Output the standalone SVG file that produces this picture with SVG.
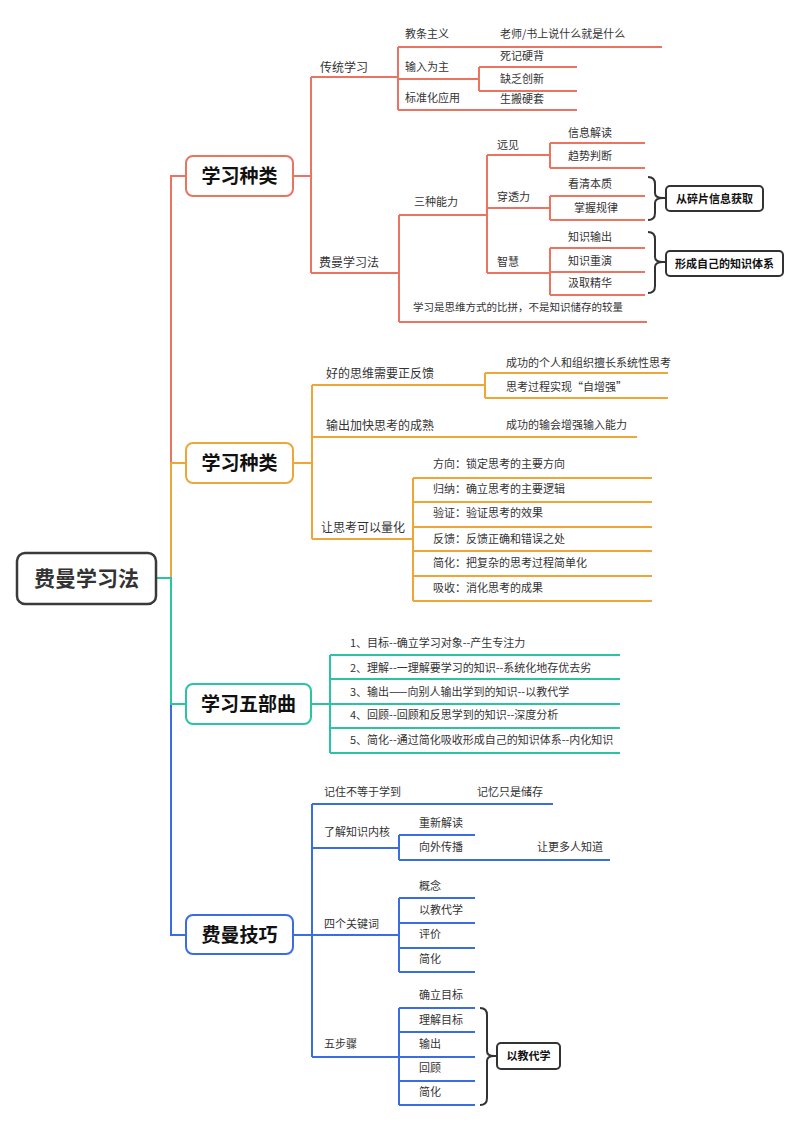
<svg xmlns="http://www.w3.org/2000/svg" width="800" height="1131" viewBox="0 0 800 1131">
<style>
.ln{fill:none;stroke-width:2;stroke-linecap:butt}
.r{stroke:#EB735F}.o{stroke:#F0A637}.g{stroke:#2BC4A2}.u{stroke:#3A6CE4}
.t{font-family:"Noto Sans CJK SC","Noto Sans",sans-serif;font-size:11px;fill:#333}
.t2{font-size:12px}
.b{font-family:"Noto Sans CJK SC","Noto Sans",sans-serif;font-size:19px;font-weight:bold;fill:#111;text-anchor:middle}
.bx{fill:#fff;stroke-width:2}
.br{fill:none;stroke:#333;stroke-width:2}
.sb{fill:#fff;stroke:#333;stroke-width:2}
.st{font-family:"Noto Sans CJK SC","Noto Sans",sans-serif;font-size:11px;font-weight:bold;fill:#111;text-anchor:middle}
</style>
<rect width="800" height="1131" fill="#fff"/>
<g id="connectors">
<path class="ln r" d="M156,578 H171 V176 H186"/>
<path class="ln r" d="M293,176 H311 M311,77 V273 M398,47 V110 M479,67 V91 M399,215 V322 M487,155 V273 M550,143 V168 M550,196 V220 M550,248 V295"/>
<path class="ln o" d="M156,578 H171 V463 H186"/>
<path class="ln o" d="M293,463 H312 M312,385 V539 M485,373 V398 M413,478 V601"/>
<path class="ln u" d="M156,578 H171 V935 H186"/>
<path class="ln u" d="M293,935 H312 M312,804 V1057 M399,835 V860 M399,898 V972 M399,1008 V1105"/>
<path class="ln g" d="M156,578 H171 V704 H186"/>
<path class="ln g" d="M311,704 H330 M330,655 V753"/>
</g>
<g id="root">
<rect x="17" y="553" width="139" height="51" rx="8" fill="#fff" stroke="#3a3a3a" stroke-width="2.5"/>
<text x="86.5" y="585.5" class="b" style="font-size:21px;fill:#333">费曼学习法</text>
</g>
<g id="branch1">
<rect class="bx r" x="186" y="156" width="107" height="40" rx="7"/>
<text class="b" x="239.5" y="183">学习种类</text>
</g>
<g id="b1-traditional"><line class="ln r" x1="311" y1="77" x2="398" y2="77"/><text class="t t2" x="320" y="71.5">传统学习</text></g>
<g id="b1-feynman"><line class="ln r" x1="311" y1="273" x2="399" y2="273"/><text class="t t2" x="319" y="266.5">费曼学习法</text></g>
<g id="b1-dogma"><line class="ln r" x1="398" y1="47" x2="497" y2="47"/><text class="t" x="405" y="38">教条主义</text></g>
<g id="b1-dogma-c"><line class="ln r" x1="497" y1="47" x2="662" y2="47"/><text class="t" x="500" y="38">老师/书上说什么就是什么</text></g>
<g id="b1-input"><line class="ln r" x1="398" y1="79" x2="479" y2="79"/><text class="t" x="405" y="71">输入为主</text></g>
<g id="b1-rote"><line class="ln r" x1="479" y1="67" x2="577" y2="67"/><text class="t" x="500" y="60">死记硬背</text></g>
<g id="b1-lack"><line class="ln r" x1="479" y1="91" x2="577" y2="91"/><text class="t" x="500" y="83">缺乏创新</text></g>
<g id="b1-std"><line class="ln r" x1="398" y1="110" x2="497" y2="110"/><text class="t" x="405" y="102">标准化应用</text></g>
<g id="b1-std-c"><line class="ln r" x1="497" y1="110" x2="577" y2="110"/><text class="t" x="500" y="103">生搬硬套</text></g>
<g id="b1-three"><line class="ln r" x1="399" y1="215" x2="487" y2="215"/><text class="t" x="414" y="206">三种能力</text></g>
<g id="b1-compare"><line class="ln r" x1="399" y1="322" x2="647" y2="322"/><text class="t" x="413" y="311" style="font-size:10.5px">学习是思维方式的比拼，不是知识储存的较量</text></g>
<g id="b1-vision"><line class="ln r" x1="487" y1="155" x2="550" y2="155"/><text class="t" x="497" y="149">远见</text></g>
<g id="b1-info"><line class="ln r" x1="550" y1="143" x2="645" y2="143"/><text class="t" x="568" y="137">信息解读</text></g>
<g id="b1-trend"><line class="ln r" x1="550" y1="168" x2="645" y2="168"/><text class="t" x="568" y="160">趋势判断</text></g>
<g id="b1-pierce"><line class="ln r" x1="487" y1="208" x2="550" y2="208"/><text class="t" x="497" y="201">穿透力</text></g>
<g id="b1-essence"><line class="ln r" x1="550" y1="196" x2="645" y2="196"/><text class="t" x="568" y="188">看清本质</text></g>
<g id="b1-law"><line class="ln r" x1="550" y1="220" x2="645" y2="220"/><text class="t" x="574" y="212">掌握规律</text></g>
<g id="b1-wisdom"><line class="ln r" x1="487" y1="273" x2="550" y2="273"/><text class="t" x="497" y="266">智慧</text></g>
<g id="b1-kout"><line class="ln r" x1="550" y1="248" x2="645" y2="248"/><text class="t" x="568" y="241">知识输出</text></g>
<g id="b1-kre"><line class="ln r" x1="550" y1="272" x2="645" y2="272"/><text class="t" x="568" y="265">知识重演</text></g>
<g id="b1-absorb"><line class="ln r" x1="550" y1="295" x2="645" y2="295"/><text class="t" x="568" y="287">汲取精华</text></g>
<g id="summary1">
<path class="br" d="M648,177 Q655,177 655,184 V193 Q655,198 663,198 Q655,198 655,203 V213 Q655,220 648,220 M663,198 H666"/>
<rect class="sb" x="666" y="186" width="97" height="25" rx="4"/>
<text class="st" x="714.5" y="202.5">从碎片信息获取</text>
</g>
<g id="summary2">
<path class="br" d="M648,232 Q655,232 655,239 V257 Q655,262 663,262 Q655,262 655,267 V286 Q655,293 648,293 M663,262 H666"/>
<rect class="sb" x="666" y="251" width="117" height="25" rx="4"/>
<text class="st" x="724.5" y="267.5">形成自己的知识体系</text>
</g>
<g id="branch2">
<rect class="bx o" x="186" y="443" width="107" height="40" rx="7"/>
<text class="b" x="239.5" y="470">学习种类</text>
</g>
<g id="b2-feedback"><line class="ln o" x1="312" y1="385" x2="485" y2="385"/><text class="t t2" x="326" y="377.5">好的思维需要正反馈</text></g>
<g id="b2-success"><line class="ln o" x1="485" y1="373" x2="668" y2="373"/><text class="t" x="506" y="367">成功的个人和组织擅长系统性思考</text></g>
<g id="b2-self"><line class="ln o" x1="485" y1="398" x2="668" y2="398"/><text class="t" x="506" y="391">思考过程实现“自增强”</text></g>
<g id="b2-output"><line class="ln o" x1="312" y1="437" x2="506" y2="437"/><text class="t t2" x="326" y="429.5">输出加快思考的成熟</text></g>
<g id="b2-output-c"><line class="ln o" x1="506" y1="437" x2="637" y2="437"/><text class="t" x="506" y="429">成功的输会增强输入能力</text></g>
<g id="b2-quant"><line class="ln o" x1="312" y1="539" x2="413" y2="539"/><text class="t t2" x="321" y="531.5">让思考可以量化</text></g>
<g id="b2-q1"><line class="ln o" x1="413" y1="478" x2="652" y2="478"/><text class="t" x="433" y="468">方向：锁定思考的主要方向</text></g>
<g id="b2-q2"><line class="ln o" x1="413" y1="502" x2="652" y2="502"/><text class="t" x="433" y="493">归纳：确立思考的主要逻辑</text></g>
<g id="b2-q3"><line class="ln o" x1="413" y1="527" x2="652" y2="527"/><text class="t" x="433" y="517">验证：验证思考的效果</text></g>
<g id="b2-q4"><line class="ln o" x1="413" y1="551" x2="652" y2="551"/><text class="t" x="433" y="543">反馈：反馈正确和错误之处</text></g>
<g id="b2-q5"><line class="ln o" x1="413" y1="576" x2="652" y2="576"/><text class="t" x="433" y="567">简化：把复杂的思考过程简单化</text></g>
<g id="b2-q6"><line class="ln o" x1="413" y1="601" x2="652" y2="601"/><text class="t" x="433" y="592">吸收：消化思考的成果</text></g>
<g id="branch3">
<rect class="bx g" x="186" y="684" width="125" height="40" rx="7"/>
<text class="b" x="248.5" y="711">学习五部曲</text>
</g>
<g id="b3-s1"><line class="ln g" x1="330" y1="655" x2="620" y2="655"/><text class="t" x="350" y="647">1、目标--确立学习对象--产生专注力</text></g>
<g id="b3-s2"><line class="ln g" x1="330" y1="679" x2="620" y2="679"/><text class="t" x="350" y="672">2、理解--一理解要学习的知识--系统化地存优去劣</text></g>
<g id="b3-s3"><line class="ln g" x1="330" y1="704" x2="620" y2="704"/><text class="t" x="350" y="696">3、输出——向别人输出学到的知识--以教代学</text></g>
<g id="b3-s4"><line class="ln g" x1="330" y1="728" x2="620" y2="728"/><text class="t" x="350" y="719">4、回顾--回顾和反思学到的知识--深度分析</text></g>
<g id="b3-s5"><line class="ln g" x1="330" y1="753" x2="620" y2="753"/><text class="t" x="350" y="744">5、简化--通过简化吸收形成自己的知识体系--内化知识</text></g>
<g id="branch4">
<rect class="bx u" x="186" y="915" width="107" height="39" rx="7"/>
<text class="b" x="239.5" y="941.5">费曼技巧</text>
</g>
<g id="b4-remember"><line class="ln u" x1="312" y1="804" x2="477" y2="804"/><text class="t" x="324" y="796">记住不等于学到</text></g>
<g id="b4-remember-c"><line class="ln u" x1="477" y1="804" x2="553" y2="804"/><text class="t" x="477" y="796">记忆只是储存</text></g>
<g id="b4-core"><line class="ln u" x1="312" y1="848" x2="399" y2="848"/><text class="t" x="324" y="836">了解知识内核</text></g>
<g id="b4-reread"><line class="ln u" x1="399" y1="835" x2="475" y2="835"/><text class="t" x="419" y="827">重新解读</text></g>
<g id="b4-spread"><line class="ln u" x1="399" y1="860" x2="537" y2="860"/><text class="t" x="419" y="851">向外传播</text></g>
<g id="b4-spread-c"><line class="ln u" x1="537" y1="860" x2="610" y2="860"/><text class="t" x="537" y="851">让更多人知道</text></g>
<g id="b4-keywords"><line class="ln u" x1="312" y1="935" x2="399" y2="935"/><text class="t" x="324" y="928">四个关键词</text></g>
<g id="b4-k1"><line class="ln u" x1="399" y1="898" x2="475" y2="898"/><text class="t" x="419" y="890">概念</text></g>
<g id="b4-k2"><line class="ln u" x1="399" y1="923" x2="475" y2="923"/><text class="t" x="419" y="914">以教代学</text></g>
<g id="b4-k3"><line class="ln u" x1="399" y1="948" x2="475" y2="948"/><text class="t" x="419" y="938">评价</text></g>
<g id="b4-k4"><line class="ln u" x1="399" y1="972" x2="475" y2="972"/><text class="t" x="419" y="963">简化</text></g>
<g id="b4-steps"><line class="ln u" x1="312" y1="1057" x2="399" y2="1057"/><text class="t" x="324" y="1048">五步骤</text></g>
<g id="b4-p1"><line class="ln u" x1="399" y1="1008" x2="475" y2="1008"/><text class="t" x="419" y="999">确立目标</text></g>
<g id="b4-p2"><line class="ln u" x1="399" y1="1032" x2="475" y2="1032"/><text class="t" x="419" y="1024">理解目标</text></g>
<g id="b4-p3"><line class="ln u" x1="399" y1="1057" x2="475" y2="1057"/><text class="t" x="419" y="1048">输出</text></g>
<g id="b4-p4"><line class="ln u" x1="399" y1="1081" x2="475" y2="1081"/><text class="t" x="419" y="1072">回顾</text></g>
<g id="b4-p5"><line class="ln u" x1="399" y1="1105" x2="475" y2="1105"/><text class="t" x="419" y="1096">简化</text></g>
<g id="summary3">
<path class="br" d="M480,1008 Q487,1008 487,1015 V1051 Q487,1056 494,1056 Q487,1056 487,1061 V1098 Q487,1105 480,1105 M494,1056 H497"/>
<rect class="sb" x="497" y="1043" width="63" height="26" rx="4"/>
<text class="st" x="528.5" y="1060">以教代学</text>
</g>
</svg>
